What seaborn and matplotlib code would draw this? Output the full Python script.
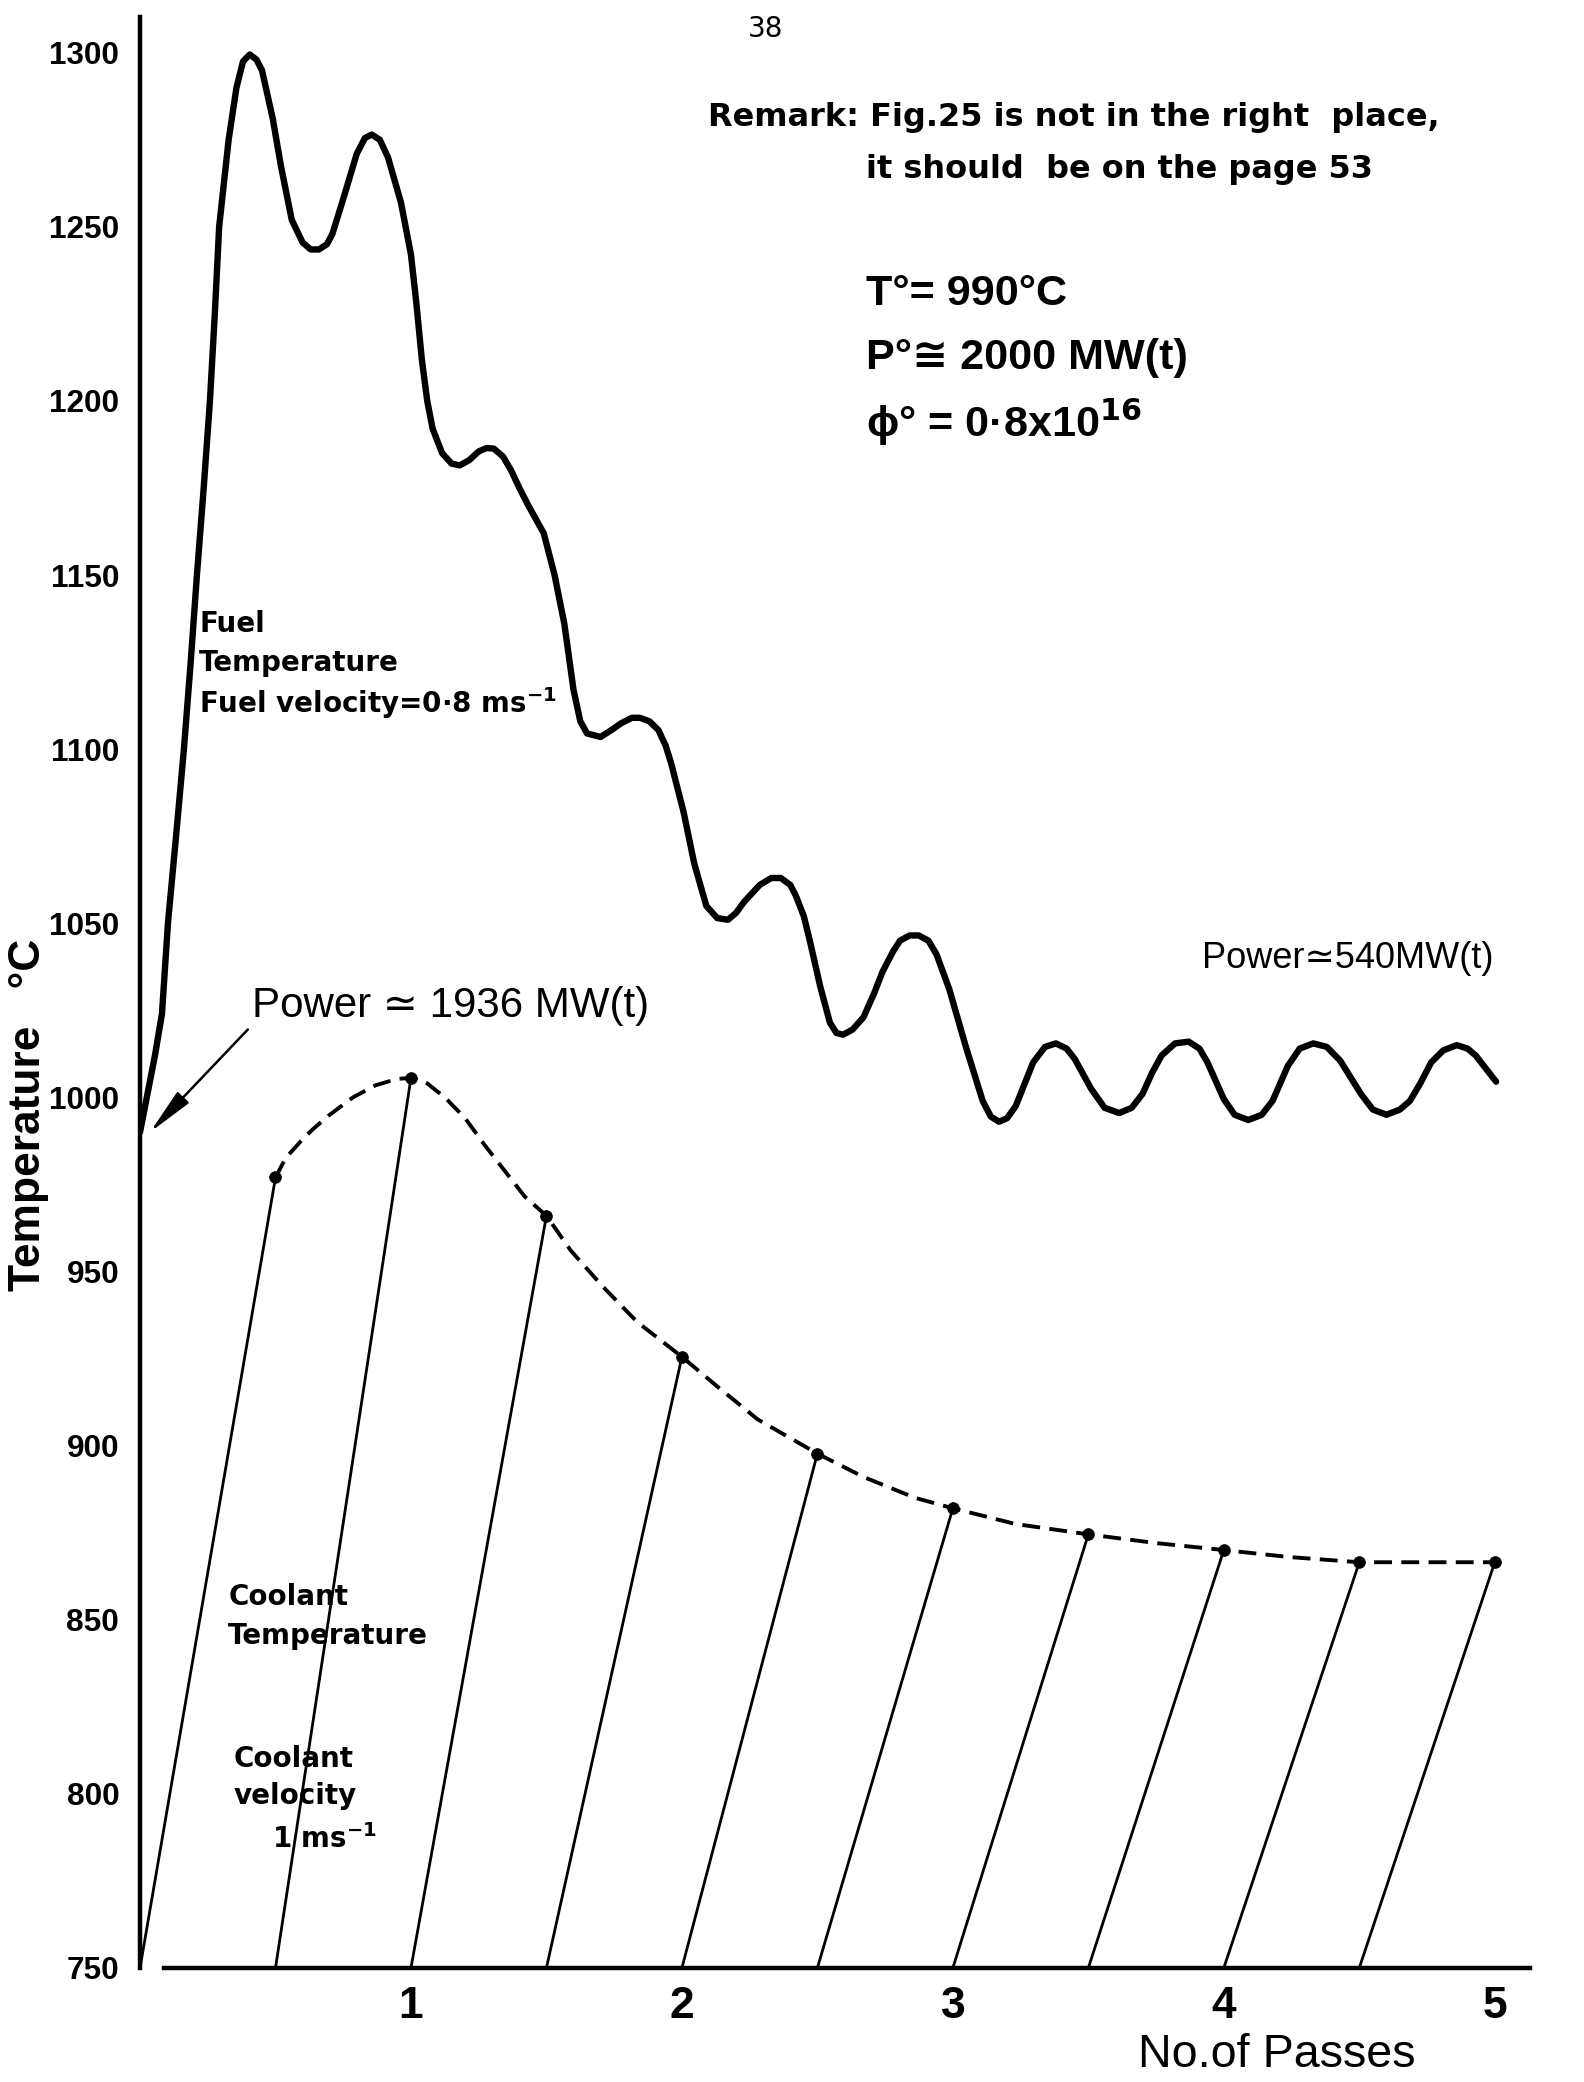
import matplotlib
matplotlib.use("Agg")
import matplotlib.pyplot as plt
import pandas as pd
import seaborn as sns
from matplotlib import font_manager

# ---------------- data ----------------
# fuel temperature trace (passes, degC)
fuel_passes = [0.0, 0.025, 0.055, 0.081, 0.103, 0.133, 0.162, 0.187, 0.21, 0.235,
               0.258, 0.276, 0.292, 0.327, 0.356, 0.38, 0.405, 0.43, 0.45, 0.49,
               0.52, 0.56, 0.60, 0.63, 0.66, 0.69, 0.71, 0.75, 0.80, 0.83,
               0.855, 0.885, 0.915, 0.963, 1.0, 1.02, 1.04, 1.06, 1.08, 1.115,
               1.15, 1.18, 1.215, 1.25, 1.28, 1.306, 1.34, 1.37, 1.40, 1.433,
               1.49, 1.53, 1.566, 1.60, 1.625, 1.65, 1.70, 1.74, 1.777, 1.815,
               1.845, 1.88, 1.913, 1.94, 1.96, 2.006, 2.046, 2.09, 2.13, 2.17,
               2.20, 2.228, 2.287, 2.33, 2.365, 2.40, 2.42, 2.45, 2.472, 2.51,
               2.546, 2.57, 2.595, 2.63, 2.67, 2.71, 2.74, 2.78, 2.805, 2.84,
               2.874, 2.91, 2.94, 2.987, 3.05, 3.11, 3.14, 3.17, 3.20, 3.232,
               3.26, 3.296, 3.34, 3.38, 3.42, 3.45, 3.51, 3.56, 3.614, 3.66,
               3.70, 3.735, 3.77, 3.82, 3.87, 3.91, 3.94, 4.0, 4.04, 4.09,
               4.14, 4.18, 4.236, 4.28, 4.33, 4.38, 4.43, 4.506, 4.55, 4.60,
               4.65, 4.687, 4.725, 4.765, 4.81, 4.86, 4.90, 4.93, 4.97, 5.005]
fuel_temp = [990, 1000, 1012, 1024, 1050, 1075, 1100, 1125, 1150, 1175,
             1200, 1225, 1250, 1275, 1290, 1297.5, 1299.5, 1298, 1295, 1281,
             1267.5, 1252, 1245.5, 1243.5, 1243.5, 1245, 1248, 1258, 1271, 1275.5,
             1276.5, 1275, 1270, 1257, 1242, 1228, 1212, 1200, 1192, 1185,
             1182, 1181.5, 1183, 1185.5, 1186.5, 1186.3, 1184, 1180, 1175, 1170,
             1162, 1150, 1136, 1117, 1108, 1104.5, 1103.5, 1105.5, 1107.5, 1109,
             1109, 1108, 1105.5, 1101, 1096, 1082, 1067, 1055, 1051.5, 1051,
             1053, 1056, 1061, 1063, 1063, 1061, 1058, 1052, 1045, 1032,
             1021.5, 1018.5, 1018, 1019.5, 1023, 1030, 1036, 1042, 1045, 1046.5,
             1046.5, 1045, 1041, 1031, 1014, 999, 994.5, 993, 994, 997.5,
             1003, 1010, 1014.5, 1015.5, 1014, 1011, 1002.5, 997, 995.5, 997,
             1001, 1007, 1012, 1015.5, 1016, 1014, 1010, 999.5, 995, 993.5,
             995, 999, 1009, 1014, 1015.5, 1014.5, 1010.5, 1001, 996.5, 995,
             996.5, 999, 1004, 1010, 1013.5, 1015, 1014, 1012, 1008, 1004.5]

# coolant: each half pass heats the coolant from the inlet value to the outlet value
coolant_passes = [0.5, 1.0, 1.5, 2.0, 2.5, 3.0, 3.5, 4.0, 4.5, 5.0]
coolant_outlet_temp = [977, 1005.6, 966, 925.5, 897.7, 882, 874.5, 870, 866.5, 866.5]
coolant_inlet_temp = 750

# envelope through the coolant outlet temperatures
envelope_passes = [0.5, 0.537, 0.6, 0.64, 0.7, 0.786, 0.87, 0.95, 1.0, 1.06,
                   1.125, 1.2, 1.27, 1.345, 1.42, 1.5, 1.59, 1.71, 1.835, 2.0,
                   2.13, 2.28, 2.5, 2.67, 2.86, 3.0, 3.23, 3.5, 3.75, 4.0,
                   4.24, 4.5, 4.76, 5.0]
envelope_temp = [977, 982.5, 988, 991, 995, 1000, 1003.5, 1005.3, 1005.6, 1004,
                 1000, 994, 986.5, 979, 971.5, 966, 956, 945.5, 935.5, 925.5,
                 917, 907.5, 897.7, 891, 885, 882, 877.5, 874.5, 872, 870,
                 868, 866.5, 866.5, 866.5]

y_ticks = [750, 800, 850, 900, 950, 1000, 1050, 1100, 1150, 1200, 1250, 1300]
x_major_ticks = [1, 2, 3, 4, 5]
x_minor_ticks = [0.5, 1.5, 2.5, 3.5, 4.5]

# ---------------- style ----------------
sns.set_style("white")
installed = {f.name for f in font_manager.fontManager.ttflist}
NARROW = "Liberation Sans Narrow" if "Liberation Sans Narrow" in installed else "Liberation Sans"
NS = 1.0 if NARROW == "Liberation Sans Narrow" else 0.84
plt.rcParams["font.family"] = ["DejaVu Sans"]
plt.rcParams["mathtext.fontset"] = "dejavusans"
plt.rcParams["text.color"] = "black"
plt.rcParams["axes.labelcolor"] = "black"
NFAM = [NARROW, "DejaVu Sans"]

fig = plt.figure(figsize=(15.84, 20.82), dpi=100)
ax = fig.add_axes([0.0884, 0.0548, 0.8775, 0.9371])

# coolant heating segments
seg_rows = []
for i, (x, t) in enumerate(zip(coolant_passes, coolant_outlet_temp)):
    seg_rows.append({"passes": x - 0.5, "temp": coolant_inlet_temp, "seg": i})
    seg_rows.append({"passes": x, "temp": t, "seg": i})
seg_df = pd.DataFrame(seg_rows)
sns.lineplot(data=seg_df, x="passes", y="temp", units="seg", estimator=None,
             sort=False, color="black", linewidth=2.0, ax=ax, legend=False)

# envelope (dashed)
sns.lineplot(x=envelope_passes, y=envelope_temp, sort=False, estimator=None,
             color="black", linewidth=2.8, ax=ax)
ax.lines[-1].set_dashes((4.6, 2.4))
sns.scatterplot(x=coolant_passes, y=coolant_outlet_temp, color="black", s=70,
                edgecolor="black", zorder=4, ax=ax, legend=False)

# fuel temperature
sns.lineplot(x=fuel_passes, y=fuel_temp, sort=False, estimator=None,
             color="black", linewidth=4.6, ax=ax)
ax.lines[-1].set_solid_joinstyle("round")
ax.lines[-1].set_solid_capstyle("round")

# ---------------- axes ----------------
ax.set_xlim(0, 5.13)
ax.set_ylim(750, 1310.3)
for side in ("top", "right"):
    ax.spines[side].set_visible(False)
for side in ("left", "bottom"):
    ax.spines[side].set_linewidth(3.2)
    ax.spines[side].set_color("black")
ax.spines["bottom"].set_bounds(0.09, 5.13)

ax.set_yticks(y_ticks)
ax.set_yticklabels([str(v) for v in y_ticks])
ax.set_xticks(x_major_ticks)
ax.set_xticklabels([str(v) for v in x_major_ticks])
ax.set_xticks(x_minor_ticks, minor=True)
ax.tick_params(axis="y", direction="out", length=11, width=2.5, pad=4,
               labelsize=27 * NS, colors="black")
ax.tick_params(axis="x", which="both", direction="out", length=10, width=2.5,
               pad=3, labelsize=38 * NS, colors="black")
for lbl in ax.get_yticklabels() + ax.get_xticklabels():
    lbl.set_fontfamily(NFAM)
    lbl.set_fontweight("bold")

ax.set_ylabel("Temperature   °C", fontsize=38 * NS, fontweight="bold",
              family=NFAM)
ax.yaxis.set_label_coords(-0.080, 0.437)
ax.set_xlabel("No.of Passes", fontsize=40 * NS, family=NFAM)
ax.xaxis.set_label_coords(0.818, -0.0446)
ax.xaxis.label.set_va("center")
ax.yaxis.label.set_va("center")

# ---------------- annotations ----------------
fig.text(0.4836, 0.986, "38", fontsize=20, ha="center", va="center")
fig.text(0.447, 0.9438, "Remark: Fig.25 is not in the right  place,",
         fontsize=23, fontweight="bold", ha="left", va="center")
fig.text(0.5467, 0.9188, "it should  be on the page 53",
         fontsize=23, fontweight="bold", ha="left", va="center")

ax.text(2.678, 1230.6, "T°= 990°C", fontsize=37 * NS, fontweight="bold",
        family=NFAM, ha="left", va="center")
ax.text(2.678, 1212.3, "P°≅ 2000 MW(t)", fontsize=37 * NS, fontweight="bold",
        family=NFAM, ha="left", va="center")
ax.text(2.678, 1194.0, r"ϕ° = 0·8x10$^{\mathbf{16}}$", fontsize=37 * NS,
        fontweight="bold", family=NFAM, ha="left", va="center")

ax.text(0.2185, 1136.0, "Fuel", fontsize=20, fontweight="bold", ha="left", va="center")
ax.text(0.2185, 1124.6, "Temperature", fontsize=20, fontweight="bold", ha="left", va="center")
ax.text(0.2185, 1113.1, r"Fuel velocity=0·8 ms$^{\mathbf{-1}}$", fontsize=20,
        fontweight="bold", ha="left", va="center")

ax.text(0.4145, 1026.2, "Power ≃ 1936 MW(t)", fontsize=36 * NS, family=NFAM,
        ha="left", va="center")
ax.annotate("", xy=(0.037, 990), xytext=(0.398, 1019.5),
            arrowprops=dict(arrowstyle="-|>,head_length=1.3,head_width=0.22",
                            color="black", lw=1.8, mutation_scale=22,
                            shrinkA=0, shrinkB=0))
ax.text(3.918, 1039.9, "Power≃540MW(t)", fontsize=31 * NS, family=NFAM,
        ha="left", va="center")

ax.text(0.326, 856.5, "Coolant", fontsize=20, fontweight="bold", ha="left", va="center")
ax.text(0.326, 845.4, "Temperature", fontsize=20, fontweight="bold", ha="left", va="center")
ax.text(0.346, 810.0, "Coolant", fontsize=20, fontweight="bold", ha="left", va="center")
ax.text(0.346, 799.3, "velocity", fontsize=20, fontweight="bold", ha="left", va="center")
ax.text(0.488, 787.1, r"1 ms$^{\mathbf{-1}}$", fontsize=20, fontweight="bold",
        ha="left", va="center")

fig.savefig("out.png", dpi=100)
